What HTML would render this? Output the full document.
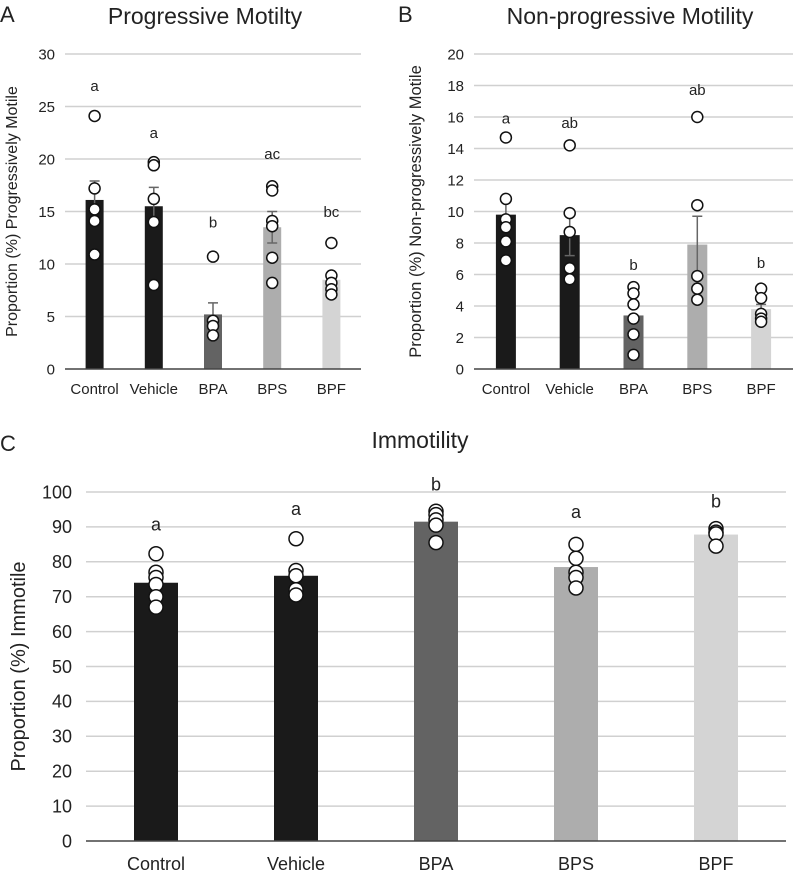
<!DOCTYPE html>
<html><head><meta charset="utf-8"><style>
body{margin:0;background:#fff;}
svg{display:block;font-family:"Liberation Sans",sans-serif;}
</style></head><body>
<svg id="fig" width="793" height="875" viewBox="0 0 793 875" xmlns="http://www.w3.org/2000/svg">
<text x="0" y="22" font-size="22" fill="#222">A</text>
<text x="205" y="24" font-size="23" fill="#222" text-anchor="middle">Progressive Motilty</text>
<text x="398" y="22" font-size="22" fill="#222">B</text>
<text x="630" y="24" font-size="23" fill="#222" text-anchor="middle">Non-progressive Motility</text>
<text x="0" y="451" font-size="22" fill="#222">C</text>
<text x="420" y="448" font-size="23" fill="#222" text-anchor="middle">Immotility</text>
<g id="gA"></g>
<g id="gB"></g>
<g id="gC"></g>
</svg>
<script>
const categories=["Control","Vehicle","BPA","BPS","BPF"];
const colors=["#1a1a1a","#1a1a1a","#636363","#adadad","#d4d4d4"];
const aMeans=[16.1,15.5,5.2,13.5,8.5];
const aErr=[1.8,1.8,1.1,1.5,0];
const aPoints=[[24.1,17.2,15.2,14.1,10.9],[19.7,19.4,16.2,14.0,8.0],[10.7,4.6,4.1,3.2],[17.4,17.0,14.1,13.6,10.6,8.2],[12.0,8.9,8.2,7.6,7.1]];
const aLetters=["a","a","b","ac","bc"];
const aLetterY=[26.5,22,13.5,20,14.5];
const aTicks=[0,5,10,15,20,25,30];
const bMeans=[9.8,8.5,3.4,7.9,3.8];
const bErr=[1.0,1.3,0,1.8,0.3];
const bPoints=[[14.7,10.8,9.5,9.0,8.1,6.9],[14.2,9.9,8.7,6.4,5.7],[5.2,4.8,4.1,3.2,2.2,0.9],[16.0,10.4,5.9,5.1,4.4],[5.1,4.5,3.5,3.2,3.0]];
const bLetters=["a","ab","b","ab","b"];
const bLetterY=[15.6,15.3,6.3,17.4,6.4];
const bTicks=[0,2,4,6,8,10,12,14,16,18,20];
const cMeans=[74,76,91.5,78.5,87.8];
const cPoints=[[82.3,77,75.5,73.5,70,67],[86.6,77.5,76,72,70.5],[94.5,93.5,92,90.5,85.5],[85,81,77,75.5,72.5],[89.5,88.5,88,84.5]];
const cLetters=["a","a","b","a","b"];
const cLetterY=[89,93.4,100.5,92.5,95.5];
const cTicks=[0,10,20,30,40,50,60,70,80,90,100];
const NS="http://www.w3.org/2000/svg";
function mk(parent,tag,attrs){const e=document.createElementNS(NS,tag);for(const k in attrs)e.setAttribute(k,attrs[k]);parent.appendChild(e);return e;}
function draw(g,cfg){
  const y=v=>cfg.y0-(v-0)/cfg.max*(cfg.y0-cfg.y1);
  const bw=(cfg.x1-cfg.x0)/categories.length;
  const x=i=>cfg.x0+bw*(i+0.5);
  cfg.ticks.forEach(t=>{
    if(t>0){const l=mk(g,"line",{x1:cfg.x0,x2:cfg.x1,y1:y(t),y2:y(t),stroke:"#d0d0d0","stroke-width":1.5});
    
    }
    const tx=mk(g,"text",{x:cfg.x0-cfg.tickGap,y:y(t)+cfg.fs*0.35,"text-anchor":"end","font-size":cfg.fs,fill:"#222"});
    tx.textContent=t;
    
    
  });
  categories.forEach((c,i)=>{
    const r=mk(g,"rect",{x:x(i)-cfg.barW/2,y:y(cfg.means[i]),width:cfg.barW,height:y(0)-y(cfg.means[i]),fill:colors[i]});
    
    
    if(cfg.err&&cfg.err[i]>0){
      const yt=y(cfg.means[i]+cfg.err[i]),yb=y(cfg.means[i]-cfg.err[i]);
      const e=mk(g,"path",{d:`M${x(i)},${yb}V${yt}M${x(i)-5},${yt}H${x(i)+5}M${x(i)-5},${yb}H${x(i)+5}`,stroke:"#666","stroke-width":1.5,fill:"none"});
      
      
    }
    cfg.points[i].forEach(p=>{
      const ci=mk(g,"circle",{cx:x(i),cy:y(p),r:cfg.r,fill:"#fff",stroke:"#111","stroke-width":1.5});
      
      
    });
    const lt=mk(g,"text",{x:x(i),y:y(cfg.letterY[i]),"text-anchor":"middle","font-size":cfg.fs,fill:"#222"});
    lt.textContent=cfg.letters[i];
    
    
    const xl=mk(g,"text",{x:x(i),y:y(0)+cfg.xlGap,"text-anchor":"middle","font-size":cfg.fs,fill:"#222"});
    xl.textContent=c;
    
    
  });
  const ax=mk(g,"line",{x1:cfg.x0,x2:cfg.x1,y1:y(0),y2:y(0),stroke:"#444","stroke-width":1.5});
  
  
  const yt=mk(g,"text",{transform:`translate(${cfg.ytX},${(cfg.y0+cfg.y1)/2}) rotate(-90)`,"text-anchor":"middle","font-size":cfg.yfs,fill:"#222"});
  yt.textContent=cfg.ytitle;
  
  
}
draw(document.getElementById("gA"),{x0:65,x1:361,y0:369,y1:54,max:30,means:aMeans,err:aErr,points:aPoints,letters:aLetters,letterY:aLetterY,ticks:aTicks,barW:18,r:5.5,fs:15,tickGap:10,xlGap:25,yfs:16,ytX:17,ytitle:"Proportion (%) Progressively Motile"});
draw(document.getElementById("gB"),{x0:474,x1:793,y0:369,y1:54,max:20,means:bMeans,err:bErr,points:bPoints,letters:bLetters,letterY:bLetterY,ticks:bTicks,barW:20,r:5.5,fs:15,tickGap:10,xlGap:25,yfs:16.5,ytX:421,ytitle:"Proportion (%) Non-progressively Motile"});
draw(document.getElementById("gC"),{x0:86,x1:786,y0:841,y1:492,max:100,means:cMeans,err:null,points:cPoints,letters:cLetters,letterY:cLetterY,ticks:cTicks,barW:44,r:7,fs:18,tickGap:14,xlGap:29,yfs:20,ytX:25,ytitle:"Proportion (%) Immotile"});
</script>
</body></html>
